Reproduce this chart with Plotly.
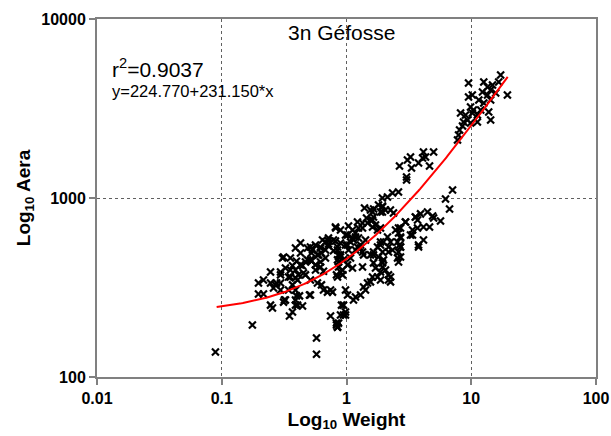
import numpy as np
import plotly.graph_objects as go

# Weight (x) and area (y)
weight = [
    0.089, 0.176, 0.575, 0.575, 0.831, 0.847, 0.745, 0.946, 0.982, 0.912, 0.831,
    0.197, 0.216, 0.197, 0.216, 0.246, 0.275, 0.246, 0.255, 0.246, 0.296, 0.307,
    0.349, 0.369, 0.405, 0.42, 0.39, 0.318, 0.343, 0.369, 0.405, 0.355, 0.39,
    0.428, 0.428, 0.469, 0.505, 0.654, 0.745, 0.514, 0.533, 0.564, 0.597, 0.619,
    0.642, 0.678, 0.619, 0.678, 0.717, 0.564, 0.469, 0.514, 0.296, 0.324, 0.428,
    0.487, 0.39, 0.355,
    0.816, 0.717, 0.816, 0.847, 0.863, 0.786, 0.717, 0.619, 0.63, 0.585, 0.514,
    0.524, 0.487, 0.524, 0.564, 0.619, 0.654, 0.313, 0.397, 0.444, 0.452, 0.412,
    0.39, 0.369, 0.355, 0.343, 0.296, 0.296, 0.27, 0.26, 0.39, 0.397, 0.39,
    0.444, 0.514, 0.704, 0.772, 0.63, 0.585, 0.324, 0.313,
    0.82, 0.895, 0.982, 1.038, 1.117, 1.181, 0.982, 1.038, 0.895, 0.946, 1.019,
    1.077, 0.863, 0.929, 0.831, 1.117, 1.181, 1.295, 1.248, 1.42, 1.344, 1.225,
    1.447, 1.616, 1.708, 1.394, 1.557, 1.805,
    1.616, 1.646, 1.557, 1.474, 1.344, 1.944, 1.873, 2.055, 1.616, 1.772, 1.873,
    2.472, 2.613, 2.711, 2.565, 2.711, 2.613, 2.711, 2.132, 2.254, 2.172, 2.339,
    1.873, 1.772, 1.646, 1.557, 1.646, 1.344, 1.369, 1.944, 1.805, 1.98, 1.944,
    2.055, 2.172, 2.254, 1.646, 1.708, 1.616, 1.557, 1.344, 1.474, 1.369, 1.42,
    1.295, 1.181, 1.138, 1.772, 1.873,
    0.786, 0.895, 1.019, 1.077, 1.138, 1.225, 1.295, 0.847, 0.895, 0.847, 0.863,
    0.895, 0.847, 0.929, 0.982, 1.019, 0.946, 0.895, 0.982, 0.847, 0.863,
    2.97, 3.57, 3.71, 3.38, 3.26, 3.78, 2.613, 2.565, 2.661, 2.711, 1.873, 1.98,
    2.172, 1.944, 1.873, 2.172, 2.254,
    1.248, 1.181, 1.019, 1.117, 0.717, 0.678,
    2.66, 3.08, 3.26, 3.32, 3.03, 3.03, 3.78, 4.07, 4.14, 4.30, 4.63, 4.99,
    7.08, 6.22, 6.70,
    1.94, 2.13, 2.34, 2.61, 1.65, 1.94, 1.94, 2.25, 2.38, 2.97, 3.57, 3.92,
    4.46, 4.90, 4.99, 5.67, 3.71, 4.14, 4.63, 3.38, 4.14, 3.78, 2.61, 2.71, 2.71,
    9.51, 17.2, 12.6, 13.5, 14.3, 14.8, 15.7, 16.6, 19.5, 9.51, 10.2, 12.3,
    11.5, 13.5, 12.6, 14.3, 13.8, 14.3, 11.9, 11.2, 9.87, 10.2, 10.4, 8.21,
    9.0, 9.34, 8.67, 9.87, 11.2, 7.91, 7.76, 8.06, 8.51,
]
area = [
    138, 195, 165, 134, 195, 190, 219, 222, 231, 252, 200,
    291, 291, 335, 348, 335, 335, 252, 243, 386, 386, 462,
    219, 231, 252, 284, 269, 269, 306, 327, 348, 362, 396,
    423, 493, 439, 287, 306, 306, 451, 512, 546, 481, 526,
    582, 512, 439, 462, 553, 396, 372, 348, 306, 406, 561,
    526, 526, 462,
    689, 575, 575, 532, 481, 507, 539, 532, 493, 481, 532,
    493, 451, 443, 423, 412, 390, 468, 443, 418, 381, 372,
    358, 418, 396, 362, 372, 335, 327, 314, 306, 284, 252,
    249, 287, 298, 298, 327, 335, 269, 262,
    680, 662, 621, 698, 662, 605, 546, 512, 481, 451, 423,
    462, 439, 396, 372, 406, 512, 546, 598, 582, 680, 735,
    773, 753, 707, 879, 857, 914,
    836, 783, 753, 725, 725, 902, 836, 857, 689, 662, 680,
    662, 637, 598, 568, 532, 499, 468, 605, 568, 532, 512,
    568, 532, 499, 481, 481, 499, 481, 499, 468, 451, 412,
    396, 348, 362, 434, 406, 362, 340, 412, 335, 318, 306,
    287, 280, 269, 362, 348,
    582, 561, 546, 568, 582, 532, 526, 512, 468, 451, 412,
    386, 362, 372, 306, 287, 252, 222, 222, 190, 200,
    735, 783, 753, 662, 621, 546, 439, 462, 546, 680, 546, 568,
    499, 434, 386, 372, 340,
    680, 637, 621, 598, 598, 568,
    1510, 1630, 1695, 1472, 1310, 1260, 1570, 1672, 1807, 1695, 1510, 1807,
    1109, 987, 868,
    1000, 1013, 1066, 1080, 868, 891, 835, 857, 824, 735, 783, 815,
    836, 793, 773, 744, 680, 689, 689, 621, 582, 532, 680, 605, 532,
    4385, 4865, 4446, 4170, 4009, 4276, 3864, 4446, 3758, 3664, 3758, 3909,
    3524, 3758, 3396, 3524, 3020, 2728, 3105, 2911, 3221, 2985, 3105, 2985,
    2911, 2728, 2659, 2624, 2659, 2249, 2110, 2399, 2523,
]

# Regression line shown on the chart: y = a + b*x
fit_a = 224.770
fit_b = 231.150
fit_x_min = 0.091
fit_x_max = 19.6

x_tick_vals = [0.01, 0.1, 1, 10, 100]
x_tick_text = ["0.01", "0.1", "1", "10", "100"]
y_tick_vals = [100, 1000, 10000]
y_tick_text = ["100", "1000", "10000"]

fit_x = np.logspace(np.log10(fit_x_min), np.log10(fit_x_max), 200)
fit_y = fit_a + fit_b * fit_x

FONT = "Liberation Sans, Arial, sans-serif"

fig = go.Figure()
fig.add_trace(go.Scatter(
    x=weight, y=area, mode="markers",
    marker=dict(symbol="x-thin", size=7, color="black",
                line=dict(width=2.2, color="black")),
    showlegend=False, hoverinfo="skip",
))
fig.add_trace(go.Scatter(
    x=fit_x, y=fit_y, mode="lines",
    line=dict(color="#ff0000", width=2),
    showlegend=False, hoverinfo="skip",
))

axis_common = dict(
    showline=True, linecolor="#808080", linewidth=2, mirror=True,
    ticks="outside", ticklen=6, tickwidth=2, tickcolor="#808080",
    showgrid=True, gridcolor="#606060", gridwidth=1, griddash="dot",
    zeroline=False, automargin=False,
    tickfont=dict(family=FONT, size=16, color="black", weight="bold"),
)

fig.update_xaxes(
    type="log", range=[-2, 2],
    tickvals=x_tick_vals, ticktext=x_tick_text,
    title=dict(text="Log<sub>10</sub> Weight",
               font=dict(family=FONT, size=19, color="black", weight="bold"),
               standoff=6),
    **axis_common,
)
fig.update_yaxes(
    type="log", range=[2, 4],
    tickvals=y_tick_vals, ticktext=y_tick_text,
    title=dict(text="Log<sub>10</sub> Aera",
               font=dict(family=FONT, size=19, color="black", weight="bold"),
               standoff=6),
    **axis_common,
)

fig.add_annotation(
    text="3n Géfosse", xref="paper", yref="paper", x=0.49, y=0.962,
    showarrow=False, xanchor="center", yanchor="middle",
    font=dict(family=FONT, size=21, color="black"),
)
fig.add_annotation(
    text="r<sup>2</sup>=0.9037", xref="paper", yref="paper", x=0.026, y=0.862,
    showarrow=False, xanchor="left", yanchor="middle",
    font=dict(family=FONT, size=21, color="black"),
)
fig.add_annotation(
    text="y=224.770+231.150*x", xref="paper", yref="paper", x=0.026, y=0.8,
    showarrow=False, xanchor="left", yanchor="middle",
    font=dict(family=FONT, size=16.5, color="black"),
)

fig.update_layout(
    width=611, height=436,
    margin=dict(l=97, r=15, t=19, b=59),
    paper_bgcolor="white", plot_bgcolor="white",
    font=dict(family=FONT),
)

# Remove the browser's default page margin so the figure fills the window
fig.write_html(
    "out.html",
    config={"displayModeBar": False},
    post_script="document.body.style.margin='0';document.body.style.overflow='hidden';",
)
